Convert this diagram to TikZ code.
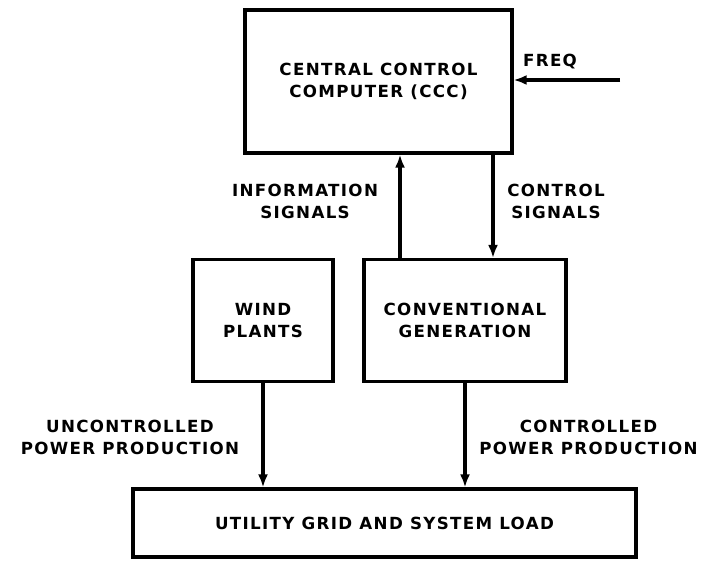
\documentclass[tikz,border=0pt]{standalone}
\usepackage{fontspec}
\newfontfamily\lettering[LetterSpace=8]{DejaVu Sans}
\usepackage{tikz}
\usetikzlibrary{arrows.meta,positioning}

\begin{document}
\begin{tikzpicture}[
  font=\lettering\bfseries\fontsize{9.5}{12.5}\selectfont,
  blk/.style={draw, line width=1.8pt, align=center, inner sep=0pt},
  lbl/.style={align=center, inner sep=0pt},
  arr/.style={-{Latex[length=2.6mm,width=2mm]}, line width=1.8pt}
]
\useasboundingbox (0,0) rectangle (14.06,11.2);
\node[blk, minimum width=5.34cm, minimum height=2.86cm] (ccc) at (7.57,9.57) {CENTRAL CONTROL\\COMPUTER (CCC)};
\node[blk, minimum width=2.8cm, minimum height=2.44cm] (wind) at (5.26,4.79) {WIND\\PLANTS};
\node[blk, minimum width=4.04cm, minimum height=2.44cm] (conv) at (9.30,4.79) {CONVENTIONAL\\GENERATION};
\node[blk, minimum width=10.06cm, minimum height=1.36cm] (grid) at (7.69,0.74) {UTILITY GRID AND SYSTEM LOAD};
\node[lbl] (freq) at (11.0,9.96) {FREQ};
\coordinate (freqin) at (12.4,9.6);
\coordinate (infox) at (8.0,0);
\coordinate (ctrlx) at (9.86,0);
\node[lbl] (info) at (6.1,7.18) {INFORMATION\\SIGNALS};
\node[lbl] (ctrl) at (11.12,7.18) {CONTROL\\SIGNALS};
\node[lbl] (unctrl) at (2.6,2.46) {UNCONTROLLED\\POWER PRODUCTION};
\node[lbl, anchor=east] (ctrlpow) at (13.96,2.46) {CONTROLLED\\POWER PRODUCTION};
\draw[arr] (freqin) -- (freqin -| ccc.east);
\draw[arr] (conv.north -| infox) -- (ccc.south -| infox);
\draw[arr] (ccc.south -| ctrlx) -- (conv.north -| ctrlx);
\draw[arr] (wind) -- (wind |- grid.north);
\draw[arr] (conv) -- (conv |- grid.north);
\end{tikzpicture}
\end{document}
